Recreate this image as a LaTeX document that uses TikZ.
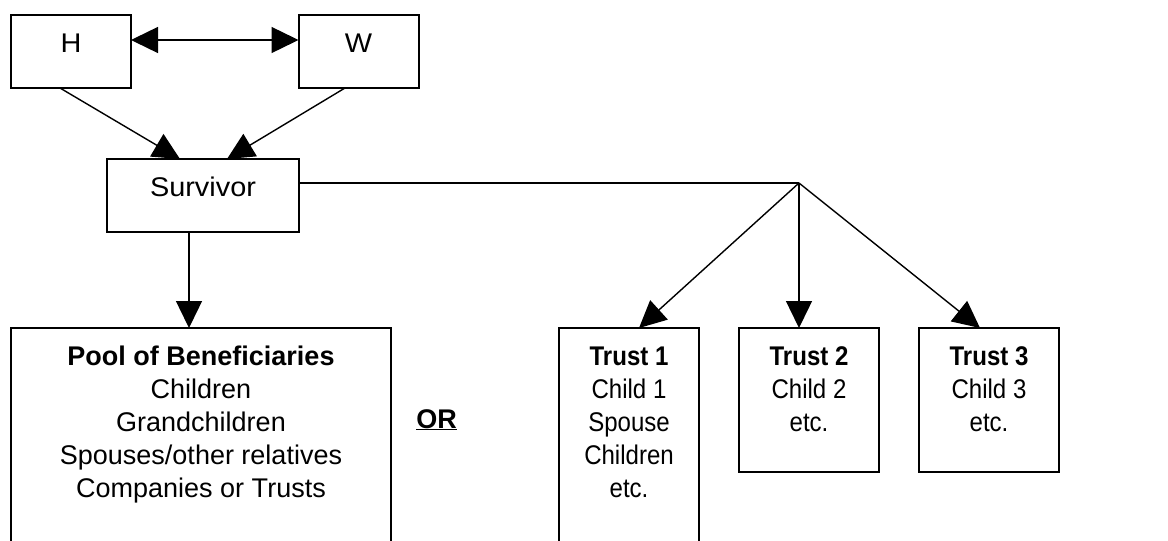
\documentclass[tikz,border=0pt]{standalone}
\usepackage{fontspec}
\setmainfont{Liberation Sans}
\newfontfamily\condfont[FakeStretch=0.89]{Liberation Sans}
\newfontfamily\widefont[FakeStretch=1.07]{Liberation Sans}
\usetikzlibrary{arrows.meta,calc}
\newcommand{\boxtxt}[3]{\parbox[c][#2][t]{#1}{\centering\rule{0pt}{37.5pt}#3}}
\tikzset{
  box/.style={draw, line width=2pt, fill=white, inner sep=0pt, outer sep=0pt,
    font=\fontsize{27}{33}\selectfont},
  conn/.style={line width=1.4pt, -{Triangle[length=27pt,width=26pt]}},
  dconn/.style={line width=1.4pt, {Triangle[length=27pt,width=26pt]}-{Triangle[length=27pt,width=26pt]}},
  plain/.style={line width=1.4pt}
}
\begin{document}
\begin{tikzpicture}[x=1pt,y=-1pt]
\useasboundingbox (0,0) rectangle (1168,541);
\clip (0,0) rectangle (1168,541);
% boxes
\node[box] (H) at (71,51.5) {\boxtxt{120pt}{73pt}{\widefont H}};
\node[box] (W) at (358.5,51.5) {\boxtxt{120pt}{73pt}{\widefont W}};
\node[box] (S) at (203,195.5) {\boxtxt{192pt}{73pt}{\widefont Survivor}};
\node[box] (P) at (201,448) {\boxtxt{380pt}{240pt}{\textbf{Pool of Beneficiaries}\\Children\\Grandchildren\\Spouses/other relatives\\Companies or Trusts}};
\node[box] (T1) at (629,448) {\boxtxt{140pt}{240pt}{\condfont\textbf{Trust 1}\\Child 1\\Spouse\\Children\\etc.}};
\node[box] (T2) at (809,400) {\boxtxt{140pt}{144pt}{\condfont\textbf{Trust 2}\\Child 2\\etc.}};
\node[box] (T3) at (989,400) {\boxtxt{140pt}{144pt}{\condfont\textbf{Trust 3}\\Child 3\\etc.}};
\node[anchor=base, font=\fontsize{27}{33}\selectfont\bfseries] (OR) at (436.5,428) {\underline{OR}};
% coordinates
\coordinate (J) at (799,183);
\coordinate (hw) at ($(H.east)+(0,-11.5)$);
\coordinate (hs) at ($(H.south)+(-11,0)$);
\coordinate (ws) at ($(W.south)+(-13.5,0)$);
\coordinate (sh) at ($(S.north)+(-23,0)$);
\coordinate (sw) at ($(S.north)+(24,0)$);
\coordinate (sp) at ($(S.south)+(-14,0)$);
\coordinate (se) at ($(S.east)+(0,-12.5)$);
\coordinate (t1) at ($(T1.north)+(10,0)$);
\coordinate (t3) at ($(T3.north)+(-9,0)$);
% connectors
\draw[dconn] (hw) -- (hw -| W.west);
\draw[conn] (hs) -- (sh);
\draw[conn] (ws) -- (sw);
\draw[conn] (sp) -- (sp |- P.north);
\draw[plain] (se) -- (J);
\draw[conn] (J) -- (t1);
\draw[conn] (J) -- (J |- T2.north);
\draw[conn] (J) -- (t3);
\end{tikzpicture}
\end{document}
